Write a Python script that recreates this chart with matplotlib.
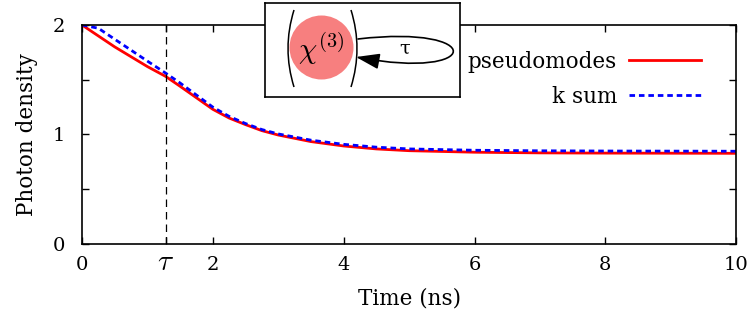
import numpy as np
import matplotlib
matplotlib.use("Agg")
import matplotlib.pyplot as plt
import matplotlib.transforms as mtransforms
from matplotlib.patches import Circle, PathPatch, FancyArrowPatch
from matplotlib.path import Path

plt.rcParams['font.family'] = 'DejaVu Serif'
plt.rcParams['mathtext.fontset'] = 'cm'

# delay time (ns)
tau = 1.28

# photon density vs time, pseudomode model
t_pm = [0, 0.25, 0.5, 0.75, 1.0, 1.28, 1.5, 1.75, 2.0, 2.25, 2.5, 2.75, 3.0,
        3.5, 4.0, 4.5, 5.0, 6.0, 7.0, 8.0, 9.0, 10.0]
n_pm = [2.0, 1.90, 1.80, 1.71, 1.62, 1.53, 1.44, 1.335, 1.23, 1.15, 1.09, 1.035, 0.995,
        0.935, 0.895, 0.868, 0.852, 0.838, 0.832, 0.830, 0.829, 0.828]

# photon density vs time, explicit k sum
t_ks = [0, 0.25, 0.5, 0.75, 1.0, 1.28, 1.5, 1.75, 2.0, 2.25, 2.5, 2.75, 3.0,
        3.5, 4.0, 4.5, 5.0, 6.0, 7.0, 8.0, 9.0, 10.0]
n_ks = [2.0, 1.97, 1.87, 1.77, 1.67, 1.56, 1.47, 1.36, 1.25, 1.165, 1.10, 1.045, 1.005,
        0.948, 0.910, 0.884, 0.868, 0.856, 0.851, 0.849, 0.848, 0.847]

x_ticks = [0, tau, 2, 4, 6, 8, 10]
x_ticklabels = ['0', r'$\tau$', '2', '4', '6', '8', '10']
y_ticks = [0, 0.5, 1, 1.5, 2]
y_ticklabels = ['0', '', '1', '', '2']

fig = plt.figure(figsize=(7.52, 3.2), dpi=100)
ax = fig.add_axes([0.109, 0.2375, 0.870, 0.6845])

ax.plot(t_pm, n_pm, color='#ff0000', lw=2.0, label='pseudomodes')
ax.plot(t_ks, n_ks, color='#0000ff', lw=2.0, dashes=(2, 1.4), label='k sum')
ax.axvline(tau, color='black', lw=0.9, dashes=(6, 4))

ax.set_xlim(0, 10)
ax.set_ylim(0, 2)
ax.set_xticks(x_ticks)
ax.set_xticklabels(x_ticklabels)
ax.set_yticks(y_ticks)
ax.set_yticklabels(y_ticklabels)
ax.tick_params(direction='in', top=True, right=True, length=5, width=1,
               labelsize=14)
ax.tick_params(axis='x', pad=9)
ax.tick_params(axis='y', pad=12)
# the tau label is set larger and nudged up to sit level with the digits
tau_lbl = ax.get_xticklabels()[1]
tau_lbl.set_fontsize(21)
tau_lbl.set_transform(tau_lbl.get_transform() +
                      mtransforms.ScaledTranslation(0, 6 / 72, fig.dpi_scale_trans))
for s in ax.spines.values():
    s.set_linewidth(1.2)
ax.set_xlabel('Time (ns)', fontsize=15.5, labelpad=8)
ax.set_ylabel('Photon density', fontsize=15.5, labelpad=11)

leg = ax.legend(loc='upper right', bbox_to_anchor=(701 / 752, 1 - 51 / 320),
                bbox_transform=fig.transFigure, frameon=False,
                markerfirst=False, fontsize=15.5, handlelength=3.35,
                labelspacing=0.6, handletextpad=0.55, borderpad=0,
                borderaxespad=0)
for txt in leg.get_texts():
    txt.set_ha('right')

# inset sketch: nonlinear cavity with delayed feedback loop
ins = fig.add_axes([265 / 752, 1 - 97 / 320, 195 / 752, 94 / 320])
ins.set_xlim(0, 195)
ins.set_ylim(0, 94)
ins.set_xticks([])
ins.set_yticks([])
for s in ins.spines.values():
    s.set_linewidth(1.2)

ins.add_patch(Circle((56.5, 49.5), 32, color='#f77f7f', lw=0))
ins.text(56.5, 48, r'$\chi^{(3)}$', fontsize=21, ha='center', va='center')

# large round brackets around the cavity
for x0, bow in [(29, -6), (86, 6)]:
    p = Path([(x0, 87), (x0 + bow * 2, 48.5), (x0, 10)],
             [Path.MOVETO, Path.CURVE3, Path.CURVE3])
    ins.add_patch(PathPatch(p, fill=False, lw=1.1, color='black'))

loop = Path([(93, 58), (222, 73), (218, 16), (91, 40)],
            [Path.MOVETO, Path.CURVE4, Path.CURVE4, Path.CURVE4])
ins.add_patch(FancyArrowPatch(path=loop, arrowstyle='-|>,head_length=9,head_width=3',
                              lw=1.2, color='black', mutation_scale=1.6))
ins.text(140, 48, 'τ', fontsize=14, ha='center', va='center')

fig.savefig('out.png', dpi=100)
